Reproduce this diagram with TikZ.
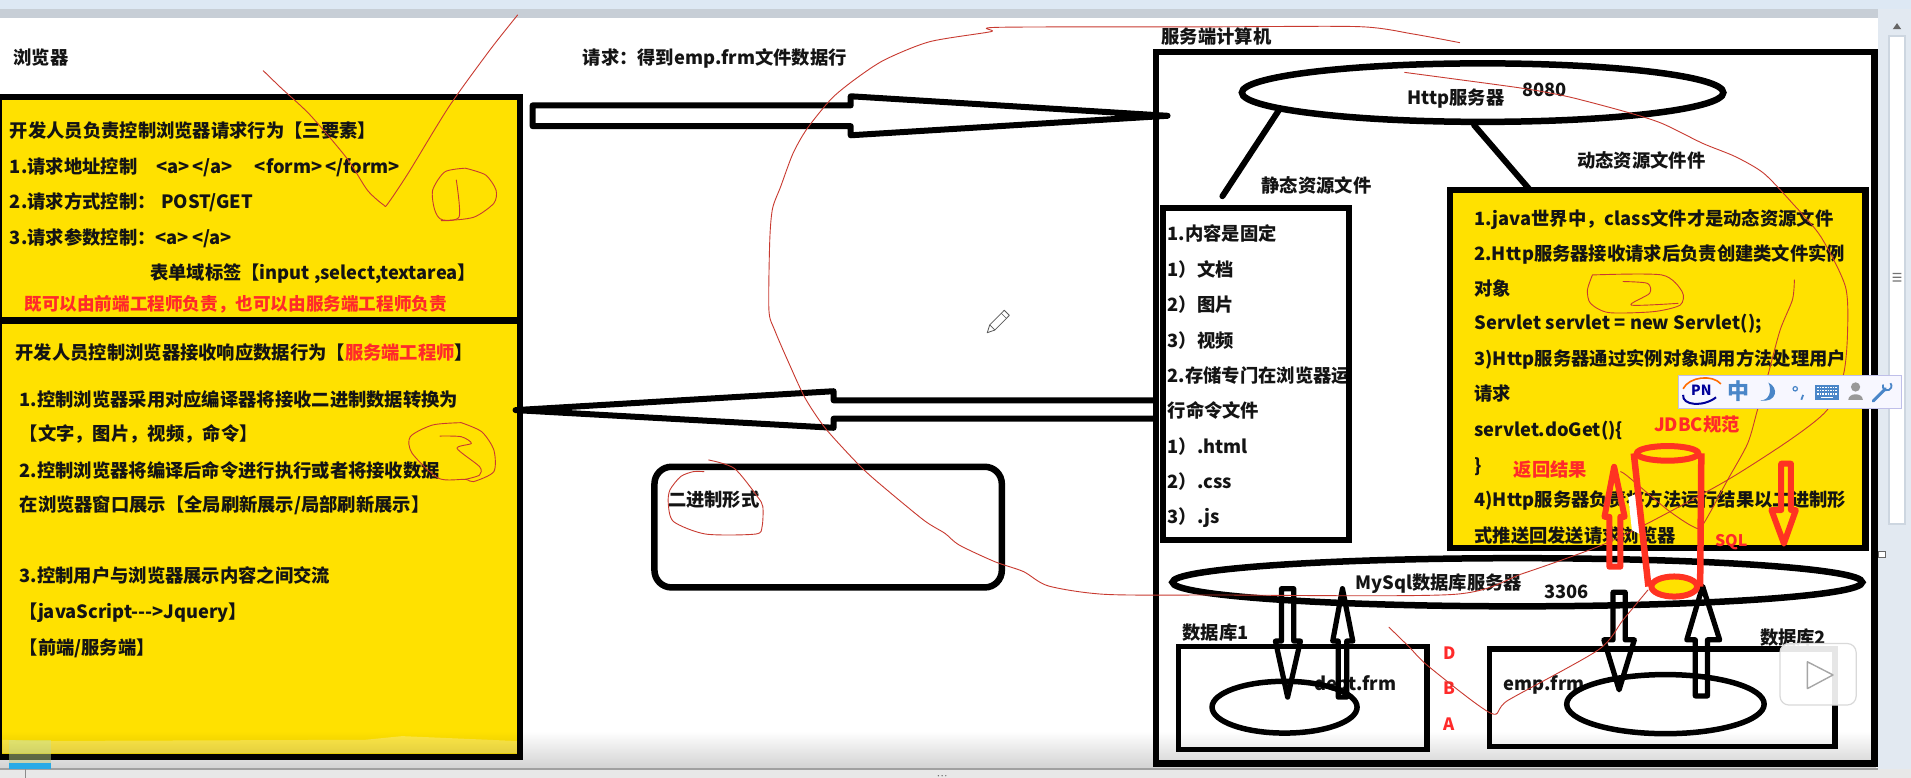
\documentclass[tikz,border=0pt]{standalone}
\usepackage{fontspec}
\setmainfont{Noto Sans CJK SC}
\usetikzlibrary{shapes.geometric,fit,fadings}
\definecolor{yel}{HTML}{FFE100}
\definecolor{redT}{HTML}{FF2A2A}
\definecolor{redP}{HTML}{FF3322}
\definecolor{pen}{HTML}{C83A30}
\definecolor{imeblue}{HTML}{4A86C8}
\tikzset{
  txt/.style={font=\bfseries\fontsize{18.3}{20}\selectfont,inner sep=0pt,anchor=base west,yshift=-7pt,text=black!92},
  rtxt/.style={txt,text=redT},
  bx/.style={draw=black,line width=#1,inner sep=0pt,rectangle},
  el/.style={draw=black,line width=#1,inner sep=0pt,ellipse},
  conn/.style={draw=black,line width=6pt,line cap=round},
  blockar/.style={draw=black,line width=#1,line join=round},
  redar/.style={draw=redP,line width=6pt,line join=round},
  hand/.style={draw=pen,line width=0.9pt,line cap=round,line join=round},
}
\newcommand{\tx}[5][]{\node[txt,#1] (#2) at (#3,#4) {#5};}
\newcommand{\rx}[5][]{\node[rtxt,#1] (#2) at (#3,#4) {#5};}
\newcommand{\hl}[1]{\draw[hand] plot[smooth,tension=.45] coordinates {#1};}
% \elp[style]{name}{x0}{y0}{x1}{y1}: ellipse whose stroke centre-line spans that box
\newcommand{\elp}[6][]{\node[#1,minimum width={(#5-#3)*1.21875pt},minimum height={(#6-#4)*1.21875pt}] (#2) at ({(#3+#5)/2},{(#4+#6)/2}) {};}
\begin{document}
\begin{tikzpicture}[x=1.21875pt,y=-1.21875pt]
\useasboundingbox (0,0) rectangle (1568,638.36);
\fill[white] (0,0) rectangle (1568,638.36);
% window frame
\fill[color={rgb,255:red,221;green,232;blue,244}] (0,0) rectangle (1568,7);
\fill[color={rgb,255:red,199;green,206;blue,214}] (0,7) rectangle (1541,15);
\fill[color={rgb,255:red,226;green,233;blue,241}] (1541,7) rectangle (1568,631);
\fill[color={rgb,255:red,205;green,214;blue,224}] (1549,29) rectangle (1564,431);
\fill[white] (1551,30) rectangle (1562,429);
\fill[black!55] (1553,224) rectangle (1560,225) (1553,227) rectangle (1560,228) (1553,230) rectangle (1560,231);
\fill[black!60] (1553,24) -- (1556.5,19) -- (1560,24) -- cycle;
\fill[white,draw=black!60,line width=.6pt] (1541.5,452) rectangle (1546.5,457);
% left boxes
\node[bx=6.5pt,fill=yel,fit={(-1,79.5) (426.5,263)}] (req) {};
\node[bx=6.5pt,fill=yel,fit={(-1,263) (426.5,621)}] (resp) {};
\tx{tbrowser}{11}{47}{浏览器}
\tx{treq}{478}{47}{请求：得到emp.frm文件数据行}
\tx{tserver}{953}{30}{服务端计算机}
\tx{a1}{8}{107}{开发人员负责控制浏览器请求行为【三要素】}
\tx{a2}{8}{137}{1.请求地址控制}
\tx{a2b}{128}{137}{<a>\,</a>}
\tx{a2c}{209}{137}{<form>\,</form>}
\tx{a3}{8}{165}{2.请求方式控制：}
\tx{a3b}{132}{165}{POST/GET}
\tx{a4}{8}{195}{3.请求参数控制：<a>\,</a>}
\tx{a5}{123}{224}{表单域标签【input ,select,textarea】}
\rx[font=\bfseries\fontsize{17.6}{20}\selectfont]{a6}{20}{249}{既可以由前端工程师负责，也可以由服务端工程师负责}
\tx{b1}{12.7}{289}{开发人员控制浏览器接收响应数据行为【\textcolor{redT}{服务端工程师}】}
\tx{b2}{16}{328}{1.控制浏览器采用对应编译器将接收二进制数据转换为}
\tx{b3}{16}{356}{【文字，图片，视频，命令】}
\tx{b4}{16}{386}{2.控制浏览器将编译后命令进行执行或者将接收数据}
\tx{b5}{16}{414}{在浏览器窗口展示【全局刷新展示/局部刷新展示】}
\tx{b6}{16}{472}{3.控制用户与浏览器展示内容之间交流}
\tx{b7}{16}{502}{【javaScript-{}-{}->Jquery】}
\tx{b8}{16}{531}{【前端/服务端】}
% middle arrows
\draw[blockar=6pt] (437,86.5) -- (698,86.5) -- (698,79) -- (958,95) -- (698,111) -- (698,103.5) -- (437,103.5) -- cycle;
\draw[blockar=6pt] (946,328.5) -- (684,328.5) -- (684,321) -- (423,336.5) -- (684,351) -- (684,343.5) -- (946,343.5);
\node[bx=6.5pt,rounded corners=17pt,fit={(537,383) (822,482)}] (binbox) {};
\tx{tbin}{548}{409.5}{二进制形式}
% server
\node[bx=6.5pt,fit={(948.5,42.5) (1538,626.5)}] (server) {};
\elp[el=6.5pt]{http}{1019}{52}{1414}{100}
\tx{thttp}{1154.6}{80}{Http服务器}
\tx{t8080}{1249}{73.3}{8080}
\tx{tstatic}{1035}{152}{静态资源文件}
\tx{tdyn}{1294}{132}{动态资源文件件}
% static box content first so that the border cuts the text
\tx{s1}{958}{192}{1.内容是固定}
\tx{s2}{958}{221}{1）文档}
\tx{s3}{958}{250}{2）图片}
\tx{s4}{958}{279}{3）视频}
\tx{s5}{958}{308}{2.存储专门在浏览器运}
\tx{s6}{958}{337}{行命令文件}
\tx{s7}{958}{366}{1）.html}
\tx{s8}{958}{395}{2）.css}
\tx{s9}{958}{424}{3）.js}
\fill[white] (1108,290) rectangle (1170,320);
\node[bx=6pt,fit={(954,171) (1106.5,443)}] (static) {};
\node[bx=6.5pt,fill=yel,fit={(1189.6,156) (1530.5,449.6)}] (dyn) {};
\coordinate (stin) at (1003,161);
\coordinate (dynin) at (1254.6,155);
\draw[conn] (http.185.5) -- (stin);
\draw[conn] (http.south) ++(-7,0) -- (dynin);
\tx{d1}{1209.6}{179}{1.java世界中，class文件才是动态资源文件}
\tx{d2}{1209.6}{208}{2.Http服务器接收请求后负责创建类文件实例}
\tx{d3}{1209.6}{236.6}{对象}
\tx{d4}{1209.6}{265}{Servlet servlet = new Servlet();}
\tx{d5}{1209.6}{294}{3)Http服务器通过实例对象调用方法处理用户}
\tx{d6}{1209.6}{322.7}{请求}
\tx{d7}{1209.6}{352.8}{servlet.doGet()\{}
\tx{d8}{1209.6}{382}{\}}
\tx{d9}{1209.6}{410}{4)Http服务器负责将方法运行结果以二进制形}
\tx{d10}{1209.6}{439}{式推送回发送请求浏览器}
% mysql
\elp[el=6.5pt]{mysql}{962}{458}{1528}{497.5}
\tx{tmysql}{1112}{478}{MySql数据库服务器}
\tx{t3306}{1267}{485.5}{3306}
\tx{tdb1}{970}{518.7}{数据库1}
\tx{tdb2}{1444}{522.8}{数据库2}
\tx{tdept}{1078}{560.6}{dept.frm}
\tx{temp}{1233.7}{560.6}{emp.frm}
\node[bx=5.5pt,fit={(967,530.5) (1171,615)}] (db1) {};
\node[bx=5.5pt,fit={(1222,532.5) (1505.5,612.5)}] (db2) {};
\elp[el=5.5pt]{e1}{994.5}{559}{1113.5}{601.5}
\elp[el=5.5pt]{e2}{1285.5}{553.5}{1447.5}{602}
% small black arrows
\draw[blockar=5.2pt] (1051.5,483) -- (1061.5,483) -- (1061.5,526) -- (1067,526) -- (1056.5,572) -- (1046.5,526) -- (1051.5,526) -- cycle;
\draw[blockar=5.2pt] (1101.5,483) -- (1110,526) -- (1105,526) -- (1105,572) -- (1098,572) -- (1098,526) -- (1093.5,526) -- cycle;
\draw[blockar=5.2pt] (1323.5,486) -- (1333.5,486) -- (1333.5,525) -- (1341,525) -- (1328.5,566) -- (1316,525) -- (1323.5,525) -- cycle;
\draw[blockar=5.2pt] (1397,481) -- (1411,525) -- (1401,525) -- (1401,571) -- (1391,571) -- (1391,525) -- (1384,525) -- cycle;
% D B A and red labels
\rx[font=\bfseries\fontsize{17}{20}\selectfont]{tD}{1184}{535}{D}
\rx[font=\bfseries\fontsize{17}{20}\selectfont]{tB}{1184}{563.7}{B}
\rx[font=\bfseries\fontsize{17}{20}\selectfont]{tA}{1184}{593.5}{A}
\rx{tjdbc}{1357}{348}{JDBC规范}
\rx{tback}{1242}{385.6}{返回结果}
\rx[font=\bfseries\fontsize{16}{20}\selectfont]{tsql}{1407}{442.5}{SQL}
% thin hand strokes
\hl{(216,58) (231,72.5) (254.5,94.4) (284.7,130) (301.4,156) (314.8,168.2) (318,167.4) (335,142) (368.4,87.5) (402,41) (424.7,12.3)}
\hl{(381.8,138) (365,141) (355,156) (356.7,172.3) (363.4,180.5) (388.5,178.3) (405.2,166.8) (407,156) (398.5,143.6) (381.8,138)}
\hl{(374.4,147.7) (376.8,177.8) (362,181)}
\hl{(378.4,346.8) (355,348.7) (336.6,358.3) (338.2,372) (360,392.5) (381.8,393.3) (388.5,395.2) (405.2,387) (405.2,369.2) (395.2,354.2) (378.4,346.8)}
\hl{(361,357.8) (378.4,358.3) (386.8,363.8) (375,367.9) (393.5,382.9) (393.5,389.8) (381.8,393.3)}
\hl{(1197.7,35) (1160,28) (1115.7,21.9) (1000,22) (819.8,22.4) (813,26) (762.9,34.2) (726,49) (702.6,64.3) (682.5,80.7) (662.4,105.3) (650.7,125.8) (640.6,153) (633.9,171) (631.6,197) (630.9,254.4) (635.6,270.8) (647.3,298) (660.7,326.8) (677.2,351.4) (703.5,380.2) (719.7,395.2) (757.8,426.7) (775.3,437.6) (787,447.2) (816.3,460.9) (839.8,469) (860.3,480.8) (907.2,487.7) (1000,488.2) (1192.8,487.7) (1250,470.4) (1311.3,448.5) (1352,429.4) (1417.5,393.8) (1470,360) (1499.2,336.4) (1512.5,307.7) (1515.9,273.5) (1514.2,235.2) (1494,194.2) (1470.7,166.8) (1447.2,142.2) (1423.8,128.5) (1397,117.6) (1363.5,101.2) (1333.4,91.6) (1286.5,79.3) (1249.6,72.5) (1189.4,64.3) (1152.5,59.4)}
\hl{(1472.3,229.7) (1470.7,246) (1460.6,270.8) (1450.6,307.7) (1442,336.4) (1434,363.8) (1417.5,393.8) (1397,430.8) (1389,432) (1368.5,418.5) (1335.8,391) (1329.7,387)}
\hl{(1139.7,514.7) (1156,530.6) (1172.4,547) (1223.4,585.3) (1237.7,574.4) (1311.3,533.3) (1331.7,508.7) (1352.2,484)}
\hl{(581.4,377.4) (602.5,384.3) (621.5,407.5) (625.9,415.7) (625.3,432) (620,438.2) (579,438.2) (552.7,428) (548.3,413) (549.7,402) (558.5,391) (568.8,387) (577.6,387)}
\hl{(1306.6,225.6) (1363.5,225.6) (1380.2,239.3) (1378.6,250.3) (1356.8,255.7) (1320,256.5) (1305,248.9) (1302.5,238) (1306.6,225.6)}
\hl{(1331.7,231) (1351.8,232.5) (1353.5,240.7) (1338.4,250.3) (1376.9,248.9)}
% red cylinder and arrows
\fill[white] (1336,408) -- (1343,405) -- (1349,440) -- (1339,435) -- cycle;
\draw[redar] (1324.4,383) -- (1333,424) -- (1329.5,424) -- (1329.5,465) -- (1320.5,465) -- (1320.5,424) -- (1316.5,424) -- cycle;
\draw[redar] (1461.5,380.5) -- (1469.5,380.5) -- (1469.5,418.5) -- (1473.5,418.5) -- (1463.7,446) -- (1453.5,418.5) -- (1461.5,418.5) -- cycle;
\elp[draw=redP,line width=6pt,ellipse,inner sep=0pt]{cyltop}{1343}{366}{1393.5}{378}
\elp[draw=redP,line width=6pt,ellipse,inner sep=0pt,fill=yel]{cylbot}{1355}{473}{1392.5}{489.5}
\draw[redP,line width=6.5pt] (cyltop.west) -- (cylbot.west);
\draw[redP,line width=6.5pt] (cyltop.east) -- (cylbot.east);
% pale band and gradient at the bottom
\fill[white,opacity=.28] (2,607) -- (30,608) -- (300,607) -- (330,604) -- (424,608) -- (424,618) -- (2,618) -- cycle;
\fill[yellow!60!green!40,opacity=.5] (7,607) rectangle (42,626);
\fill[black,opacity=.18,path fading=north] (0,600) rectangle (1541,631);
% bottom bar
\fill[color={rgb,255:red,232;green,232;blue,232}] (0,631) rectangle (1568,638.36);
\draw[color={rgb,255:red,160;green,160;blue,160},line width=1.2pt] (0,631) -- (1541,631);
\fill[color={rgb,255:red,40;green,170;blue,230}] (7,626) rectangle (42,631);
\draw[black!45,line width=.8pt] (21,631) -- (21,638.36);
\fill[black!60] (770,636.5) circle (.6) (773,636.5) circle (.6) (776,636.5) circle (.6);
% pencil cursor
\draw[black!65,fill=white,line width=.8pt,line join=round] (810,273) -- (812.1,266.6) -- (824,254.6) -- (828.2,258.8) -- (816.3,270.8) -- cycle;
\draw[black!65,line width=.7pt] (812.1,266.6) -- (816.3,270.8) (821.5,257) -- (825.7,261.2);
% play overlay
\node[draw=black!15,fill=white,fill opacity=.9,line width=1.2pt,rounded corners=9pt,inner sep=0pt,fit={(1460.5,528) (1523,578.5)}] (play) {};
\draw[fill=white,draw=black!35,line width=1.4pt,line join=round] (1483,543) -- (1504,553.8) -- (1483,565) -- cycle;
% input-method toolbar
\node[draw=black!35!blue!25!white,fill=blue!3!white,line width=1.2pt,inner sep=0pt,fit={(1377,308) (1560,335)}] (ime) {};
\draw[color=orange!85!red,line width=1.6pt] (1381,319) .. controls (1386,309) and (1405,307) .. (1412,315);
\draw[color=blue!60!black,line width=2pt] (1408,326) .. controls (1398,334) and (1380,333) .. (1381,324);
\node[inner sep=0pt,text=blue!60!black,font=\bfseries\itshape\fontsize{14}{14}\selectfont] (imeP) at (1396,320.5) {PN};
\node[inner sep=0pt,text=imeblue,font=\bfseries\fontsize{22}{22}\selectfont] (imezh) at (1426.8,321) {中};
\fill[imeblue] (1451,314) .. controls (1460,318) and (1458,331) .. (1444,328.5) .. controls (1452,329) and (1454,320) .. (1451,314) -- cycle;
\draw[imeblue,line width=1.2pt] (1473,319) circle (1.8);
\draw[imeblue,line width=1.8pt] (1479.5,324) -- (1478,328);
\fill[imeblue] (1489,315.5) rectangle (1509,328.5);
\foreach \yy in {317.7,320.5,323.3}{\draw[white,line width=1.2pt,dash pattern=on 1.6pt off 1pt] (1491,\yy) -- (1507,\yy);}
\draw[white,line width=1.2pt] (1494,326) -- (1504,326);
\fill[black!40] (1522.5,317.5) circle (3.8) (1516.5,328) .. controls (1517,322) and (1528,322) .. (1528.5,328) -- cycle;
\draw[imeblue,line width=3pt,line cap=round] (1537,329) -- (1547,319);
\draw[imeblue,line width=1.8pt] (1545,315.5) arc (200:-40:3.6);
\end{tikzpicture}
\end{document}
